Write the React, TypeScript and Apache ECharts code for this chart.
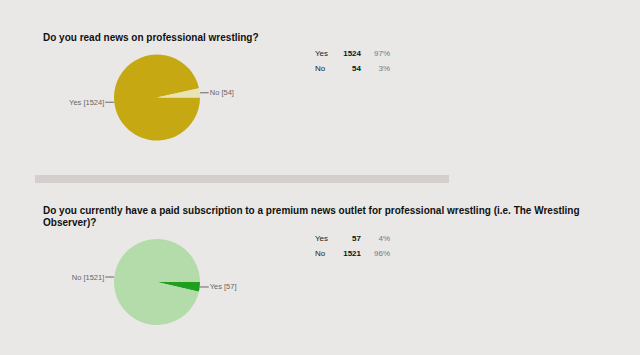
import React, { useEffect, useRef } from "react";
import * as echarts from "echarts";

const q1Title = "Do you read news on professional wrestling?";
const q1Categories = ["Yes", "No"];
const q1Values = [1524, 54];
const q1Colors = ["#c6a912", "#e8e3b2"];

const q2Title = "Do you currently have a paid subscription to a premium news outlet for professional wrestling (i.e. The Wrestling\nObserver)?";
const q2Categories = ["Yes", "No"];
const q2Values = [57, 1521];
const q2Colors = ["#1f9e1f", "#b4dbaa"];

const FONT = "'Liberation Sans', Arial, sans-serif";

function pct(values: number[], i: number) {
  const total = values.reduce((a, b) => a + b, 0);
  return Math.round((values[i] / total) * 100) + "%";
}

function tableGraphics(cats: string[], vals: number[], top: number) {
  const els: any[] = [];
  cats.forEach((c, i) => {
    const y = top + i * 14.5;
    els.push({ type: "text", x: 315, y, style: { text: c, fill: "#222", font: `8px ${FONT}`, verticalAlign: "middle", align: "left" } });
    els.push({ type: "text", x: 361, y, style: { text: String(vals[i]), fill: "#111", font: `bold 8px ${FONT}`, verticalAlign: "middle", align: "right" } });
    els.push({ type: "text", x: 390, y, style: { text: pct(vals, i), fill: "#777", font: `8px ${FONT}`, verticalAlign: "middle", align: "right" } });
  });
  return els;
}

function pieSeries(cats: string[], vals: number[], colors: string[], cy: number) {
  return {
    type: "pie",
    center: [157, cy],
    radius: 43,
    startAngle: 0,
    clockwise: true,
    avoidLabelOverlap: false,
    silent: true,
    data: cats.map((c, i) => ({ name: c, value: vals[i], itemStyle: { color: colors[i] } })),
    label: {
      show: true,
      position: "outside",
      formatter: "{b} [{c}]",
      color: "#666",
      fontSize: 7.5,
      fontFamily: FONT,
      distanceToLabelLine: 1,
    },
    labelLine: { show: true, length: 1, length2: 8, lineStyle: { color: "#666", width: 1 } },
    itemStyle: { borderWidth: 0 },
  };
}

export default function App() {
  const ref = useRef<HTMLDivElement>(null);
  useEffect(() => {
    if (!ref.current) return;
    const chart = echarts.init(ref.current, null, { renderer: "svg" });
    chart.setOption({
      animation: false,
      backgroundColor: "#e9e8e6",
      series: [
        pieSeries(q1Categories, q1Values, q1Colors, 97.5),
        pieSeries(q2Categories, q2Values, q2Colors, 282),
      ],
      graphic: [
        { type: "text", x: 43, y: 37, style: { text: q1Title, fill: "#111", font: `bold 10px ${FONT}`, verticalAlign: "middle" } },
        { type: "rect", shape: { x: 35, y: 175, width: 414, height: 8 }, style: { fill: "#d4cecc" } },
        { type: "text", x: 43, y: 204, style: { text: q2Title, fill: "#111", font: `bold 10px ${FONT}`, lineHeight: 12.5, verticalAlign: "top" } },
        ...tableGraphics(q1Categories, q1Values, 53.5),
        ...tableGraphics(q2Categories, q2Values, 238.5),
      ],
    });
    return () => chart.dispose();
  }, []);
  return <div ref={ref} style={{ position: "fixed", left: 0, top: 0, width: 640, height: 355 }} />;
}
